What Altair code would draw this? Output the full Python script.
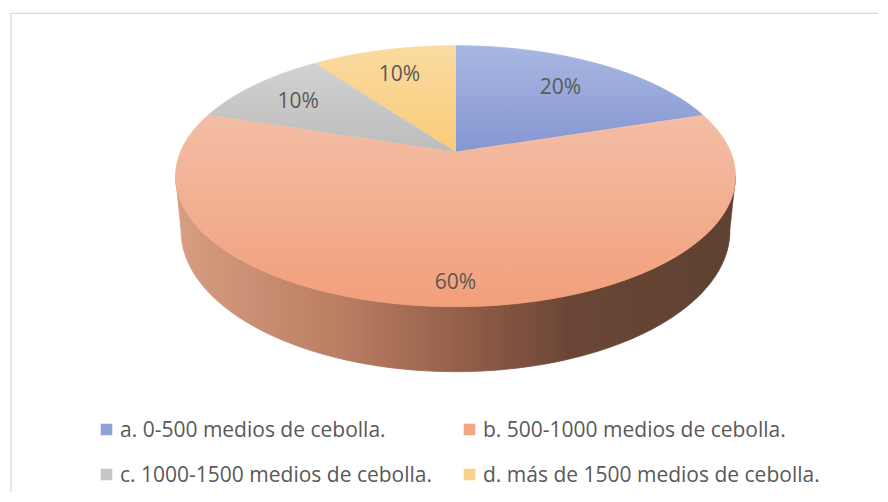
import altair as alt
import pandas as pd

# ---- data -------------------------------------------------------------
categories = [
    "a. 0-500 medios de cebolla.",
    "b. 500-1000 medios de cebolla.",
    "c. 1000-1500 medios de cebolla.",
    "d. más de 1500 medios de cebolla.",
]
values = [20, 60, 10, 10]

# ---- styles -----------------------------------------------------------
top_colors = [("#a8b7e1", "#8596d2"), ("#f3bea5", "#f29f7b"),
              ("#d2d2d2", "#bcbcbc"), ("#fbdba2", "#f8cb78")]
side_stops = [(0.0, "#d89e82"), (0.3, "#b97d62"), (0.5, "#956049"),
              (0.7, "#6b4636"), (1.0, "#5e4131")]
legend_colors = ["#8fa1d7", "#f2a886", "#c6c6c6", "#fad18a"]
TEXT = "#595959"
FONT = "Open Sans"
FS = 21

W, H = 870, 484
CX, CY = 455.5, 151.7          # apex of the pie (page px)
SX, SY, K = 275.0, 125.9, 0.1877  # perspective ellipse
DEPTH, SHRINK = 52.8, 0.98
N = 90

df = pd.DataFrame({"cat": categories, "value": values, "order": list(range(len(values)))})

xs = alt.Scale(domain=[8, 8 + W], nice=False, zero=False)
ys = alt.Scale(domain=[8, 8 + H], nice=False, zero=False, reverse=True)
X = alt.X("px:Q", scale=xs, axis=None)
Y = alt.Y("py:Q", scale=ys, axis=None)

base = (
    alt.Chart(df)
    .transform_joinaggregate(total="sum(value)")
    .transform_window(cum="sum(value)", sort=[alt.SortField("order")], frame=[None, 0])
    .transform_calculate(t0="2*PI*(datum.cum-datum.value)/datum.total")
    .transform_calculate(t1="2*PI*datum.cum/datum.total")
)


def lin_grad(stops, horizontal=False):
    return alt.LinearGradient(
        gradient="linear",
        stops=[alt.GradientStop(color=c, offset=o) for o, c in stops],
        x1=0, x2=1 if horizontal else 0, y1=0, y2=0 if horizontal else 1,
    )


side_grad = lin_grad(side_stops, horizontal=True)

sides, tops = [], []
for i in range(len(values)):
    s = (
        base.transform_filter(f"datum.order == {i}")
        .transform_calculate(seq=f"sequence(0, {2 * N + 2})")
        .transform_flatten(["seq"])
        .transform_calculate(s0=f"max(datum.t0, acos(-{K}))")
        .transform_calculate(s1=f"max(datum.s0, min(datum.t1, 2*PI - acos(-{K})))")
        .transform_calculate(j=f"datum.seq <= {N} ? datum.seq : {2 * N + 1} - datum.seq")
        .transform_calculate(bot=f"datum.seq > {N} ? 1 : 0")
        .transform_calculate(th=f"datum.s0 + (datum.s1 - datum.s0) * datum.j / {N}")
        .transform_calculate(den=f"1 + {K}*cos(datum.th)")
        .transform_calculate(px=f"{CX} + {SX}*sin(datum.th)/datum.den*(datum.bot ? {SHRINK} : 1)")
        .transform_calculate(py=f"{CY} - {SY}*cos(datum.th)/datum.den + datum.bot*{DEPTH}/datum.den")
        .mark_line(fill=side_grad, stroke=side_grad, strokeWidth=0.8)
        .encode(x=X, y=Y, order=alt.Order("seq:Q"))
    )
    sides.append(s)

    g = lin_grad([(0.0, top_colors[i][0]), (1.0, top_colors[i][1])])
    t = (
        base.transform_filter(f"datum.order == {i}")
        .transform_calculate(seq=f"sequence(0, {N + 2})")
        .transform_flatten(["seq"])
        .transform_calculate(th=f"datum.t0 + (datum.t1 - datum.t0) * min(datum.seq, {N}) / {N}")
        .transform_calculate(r=f"datum.seq <= {N} ? 1 : 0")
        .transform_calculate(u="datum.r*sin(datum.th)")
        .transform_calculate(v="datum.r*cos(datum.th)")
        .transform_calculate(px=f"{CX} + {SX}*datum.u/(1 + {K}*datum.v)")
        .transform_calculate(py=f"{CY} - {SY}*datum.v/(1 + {K}*datum.v)")
        .mark_line(fill=g, stroke=g, strokeWidth=0.8)
        .encode(x=X, y=Y, order=alt.Order("seq:Q"))
    )
    tops.append(t)

labels = (
    base.transform_calculate(mid="(datum.t0 + datum.t1)/2")
    .transform_calculate(rr="0.72 + 0.14*max(0, -cos(datum.mid)) + 0.1*max(0, -sin(datum.mid))*max(0, cos(datum.mid))")
    .transform_calculate(u="datum.rr*sin(datum.mid)")
    .transform_calculate(v="datum.rr*cos(datum.mid)")
    .transform_calculate(px=f"{CX} + {SX}*datum.u/(1 + {K}*datum.v)")
    .transform_calculate(py=f"{CY} - {SY}*datum.v/(1 + {K}*datum.v)")
    .transform_calculate(lab="format(datum.value/datum.total, '.0%')")
    .mark_text(font=FONT, fontSize=FS, color=TEXT, align="center", baseline="middle", dy=2.5)
    .encode(x=X, y=Y, text="lab:N")
)

leg = alt.Chart(df).transform_calculate(
    px="106.5 + (datum.order % 2)*363",
    py="429.5 + floor(datum.order/2)*45",
)
leg_sq = leg.mark_square(size=134, opacity=1).encode(
    x=X, y=Y,
    color=alt.Color("cat:N", scale=alt.Scale(domain=categories, range=legend_colors), legend=None),
)
leg_tx = leg.transform_calculate(tx="datum.px + 13.5").mark_text(
    font=FONT, fontSize=FS, color=TEXT, align="left", baseline="middle", dy=1.5
).encode(x=alt.X("tx:Q", scale=xs, axis=None), y=Y, text="cat:N")

one = alt.Chart(pd.DataFrame({"k": [0]}))
border_left = one.mark_rule(color="#d9d9d9", strokeWidth=1.3).encode(
    x=alt.value(3), y=alt.value(5.3), y2=alt.value(H))
border_top = one.mark_rule(color="#d9d9d9", strokeWidth=1.3).encode(
    x=alt.value(3), x2=alt.value(W), y=alt.value(5.3))

chart = (
    alt.layer(*sides, *tops, labels, leg_sq, leg_tx, border_left, border_top)
    .properties(width=W, height=H, padding=0, autosize="none", background="white")
    .configure_view(stroke=None)
)

chart.save("out.html", embed_options={"renderer": "svg", "actions": False})
